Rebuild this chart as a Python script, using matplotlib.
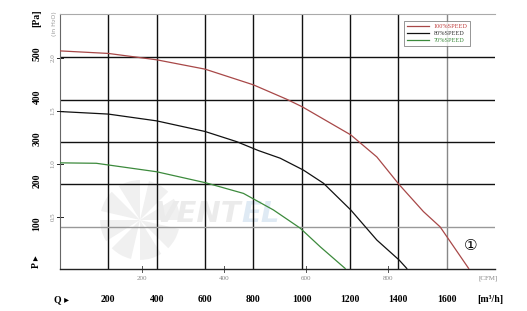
import matplotlib
matplotlib.use("Agg")
import matplotlib.pyplot as plt
from matplotlib.patches import Wedge

# curves: Q in m3/h, P in Pa
q_100 = [0, 200, 400, 600, 800, 938, 1003, 1203, 1311, 1403, 1504, 1573, 1691]
p_100 = [515, 509, 494, 472, 435, 401, 383, 317, 265, 200, 136, 100, 2]
q_80 = [0, 200, 400, 600, 731, 821, 911, 1007, 1090, 1203, 1311, 1403, 1435]
p_80 = [372, 366, 350, 325, 301, 280, 262, 234, 203, 140, 69, 22, 2]
q_70 = [0, 150, 400, 603, 759, 883, 994, 1077, 1180]
p_70 = [251, 250, 230, 204, 179, 140, 97, 53, 2]
labels = ["100%SPEED", "80%SPEED", "70%SPEED"]

q_ticks = [200, 400, 600, 800, 1000, 1200, 1400, 1600]
p_ticks = [100, 200, 300, 400, 500]
cfm_ticks = [200, 400, 600, 800]
inh2o_ticks = [0.5, 1.0, 1.5, 2.0]

fig = plt.figure(figsize=(5.27, 3.11), dpi=100)
ax = fig.add_axes([60/527, 1-269.3/311, 435/527, 255.3/311])
ax.set_xlim(0, 1800)
ax.set_ylim(0, 602)

# faint watermark
ax.text(750, 130, "VENT", fontsize=21, fontweight="bold", style="italic",
        color="#ebebeb", ha="right", va="center", zorder=0)
ax.text(750, 130, "EL", fontsize=21, fontweight="bold", style="italic",
        color="#dfeaf4", ha="left", va="center", zorder=0)
fan = fig.add_axes([98/527, 1-262/311, 84/527, 84/311])
fan.set_aspect("equal")
fan.set_xlim(-1, 1)
fan.set_ylim(-1, 1)
fan.axis("off")
for a in range(0, 360, 45):
    fan.add_patch(Wedge((0, 0), 0.95, a, a + 32, color="#f0f0f0", lw=0))
fan.set_zorder(0)
ax.set_zorder(1)
ax.patch.set_alpha(0)

for q in q_ticks:
    ax.axvline(q, color="#888888" if q == 1600 else "#111111", lw=1.0, zorder=1)
for p in p_ticks:
    ax.axhline(p, color="#999999" if p == 100 else "#111111", lw=1.0, zorder=1)

ax.plot(q_100, p_100, color="#a84848", lw=0.9, label=labels[0], zorder=3)
ax.plot(q_80, p_80, color="#111111", lw=0.9, label=labels[1], zorder=3)
ax.plot(q_70, p_70, color="#3c8a3c", lw=0.9, label=labels[2], zorder=3)

ax.spines["right"].set_visible(False)
ax.spines["top"].set_color("#aaaaaa")
ax.spines["top"].set_linewidth(0.8)
ax.spines["left"].set_color("#666666")
ax.spines["left"].set_linewidth(0.8)
ax.spines["bottom"].set_color("#222222")
ax.spines["bottom"].set_linewidth(1.0)
ax.set_xticks([])
ax.set_yticks([])

fam = ["Liberation Serif", "DejaVu Sans"]
ser = dict(family=fam, fontweight="bold", fontsize=7)
small = dict(family=fam, fontsize=5, color="#888888")
xt = ax.get_xaxis_transform()
yt = ax.get_yaxis_transform()

# Q axis (m3/h)
for q in q_ticks:
    ax.text(q, -0.12, str(q), transform=xt, ha="center", va="center", **ser)
ax.text(5, -0.12, "Q \u25b8", transform=xt, ha="center", va="center", **ser)
ax.text(1780, -0.12, "[m\u00b3/h]", transform=xt, ha="center", va="center", **ser)

# CFM axis
for c in cfm_ticks:
    x = c * 1.699
    ax.plot([x, x], [-0.012, 0.012], transform=xt, color="#555555", lw=0.7, clip_on=False)
    ax.text(x, -0.035, str(c), transform=xt, ha="center", va="center", **small)
ax.text(1770, -0.035, "[CFM]", transform=xt, ha="center", va="center", **small)

# Pa axis
for p in p_ticks:
    ax.text(-0.053, p + 8, str(p), transform=yt, rotation=90,
            ha="center", va="center", **ser)
ax.text(-0.053, 18, "P \u25b8", transform=yt, rotation=90, ha="center", va="center", **ser)
ax.text(-0.053, 592, "[Pa]", transform=yt, rotation=90, ha="center", va="center", **ser)

# inH2O axis
for w in inh2o_ticks:
    p = w * 249
    ax.plot([-0.007, 0.007], [p, p], transform=yt, color="#222222", lw=0.7, clip_on=False)
    ax.text(-0.016, p, "%.1f" % w, transform=yt, rotation=90,
            ha="center", va="center", **small)
ax.text(-0.012, 580, "(in H\u2082O)", transform=yt, rotation=90, ha="center",
        va="center", family="DejaVu Sans", fontsize=4.5, color="#999999")

ax.text(1700, 57, "\u2460", fontsize=11, ha="center", va="center",
        family="DejaVu Sans", zorder=4)

leg = ax.legend(loc="upper right", bbox_to_anchor=(0.95, 0.985), frameon=True,
                fancybox=False, handlelength=3.5, borderpad=0.4, labelspacing=0.3,
                prop={"family": "Liberation Serif", "size": 4.5})
leg.get_frame().set_edgecolor("#666666")
leg.get_frame().set_linewidth(0.6)
for t, c in zip(leg.get_texts(), ["#c04040", "#333333", "#3c8a3c"]):
    t.set_color(c)

fig.savefig("out.png", dpi=100)
